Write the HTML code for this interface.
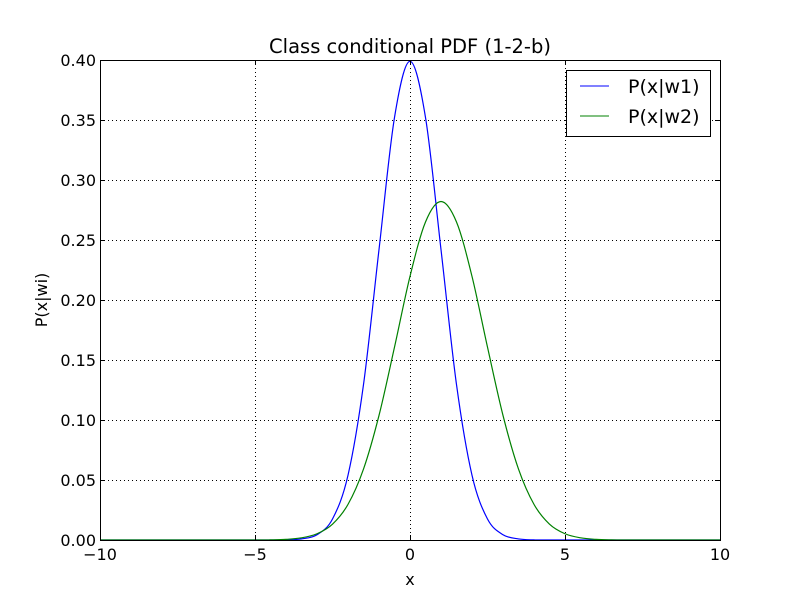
<!DOCTYPE html>
<html><head><meta charset="utf-8"><style>
body{margin:0;background:#fff}
text{font-family:"DejaVu Sans","Liberation Sans",sans-serif}
</style></head><body>
<svg id="chart" width="800" height="600" viewBox="0 0 800 600" xmlns="http://www.w3.org/2000/svg">
<rect width="800" height="600" fill="#fff"/>
<g id="grid"></g><g id="series"></g><g id="axes"></g>
<text x="410" y="53" text-anchor="middle" font-size="19.5">Class conditional PDF (1-2-b)</text>
<text x="410" y="585" text-anchor="middle" font-size="16">x</text>
<text transform="translate(47,300) rotate(-90)" text-anchor="middle" font-size="16">P(x|wi)</text>
<g>
<rect x="566.5" y="70.5" width="144" height="66" fill="#fff" stroke="#000"/>
<line x1="580" y1="86" x2="609" y2="86" stroke="#0000ff"/>
<text x="628" y="93" font-size="19">P(x|w1)</text>
<line x1="580" y1="116" x2="609" y2="116" stroke="#008000"/>
<text x="628" y="123" font-size="19">P(x|w2)</text>
</g>
</svg>
<script>
const xTicks=[-10,-5,0,5,10];
const yTicks=[0,0.05,0.1,0.15,0.2,0.25,0.3,0.35,0.4];
const yTickLabels=["0.00","0.05","0.10","0.15","0.20","0.25","0.30","0.35","0.40"];
const w1X=[-10,-4.5,-4,-3.5,-3,-2.5,-2,-1.5,-1,-0.5,0,0.5,1,1.5,2,2.5,3,3.5,4,4.5,10];
const w1Y=[0,0,0.0001,0.0009,0.0044,0.0175,0.0540,0.1295,0.2420,0.3521,0.3989,0.3521,0.2420,0.1295,0.0540,0.0175,0.0044,0.0009,0.0001,0,0];
const w2X=[-10,-5,-4.5,-4,-3.5,-3,-2.5,-2,-1.5,-1,-0.5,0,0.5,1,1.5,2,2.5,3,3.5,4,4.5,5,5.5,6,6.5,7,7.5,10];
const w2Y=[0,0,0.0001,0.0005,0.0018,0.0052,0.0132,0.0297,0.0591,0.1038,0.1607,0.2197,0.2650,0.2821,0.2650,0.2197,0.1607,0.1038,0.0591,0.0297,0.0132,0.0052,0.0018,0.0005,0.0001,0,0,0];
const L=100,R=720,T=60,B=540;
const sx=v=>L+(v+10)/20*(R-L), sy=v=>B-v/0.4*(B-T);
const NS="http://www.w3.org/2000/svg";
function mk(p,t,a){const e=document.createElementNS(NS,t);for(const k in a)e.setAttribute(k,a[k]);p.appendChild(e);return e;}
const grid=document.getElementById('grid'),axes=document.getElementById('axes'),ser=document.getElementById('series');
xTicks.forEach(v=>{const x=sx(v)+0.5;
 const g=mk(grid,'line',{x1:x,x2:x,y1:T,y2:B,stroke:'#000','stroke-dasharray':'1,3','stroke-width':1});
 
 mk(axes,'line',{x1:x,x2:x,y1:B,y2:B-5,stroke:'#000'});mk(axes,'line',{x1:x,x2:x,y1:T,y2:T+5,stroke:'#000'});
 const t=mk(axes,'text',{x:sx(v),y:B+20,'text-anchor':'middle','font-size':16});t.textContent=(v<0?'\u2212'+(-v):v);
 });
yTicks.forEach((v,i)=>{const y=sy(v)+0.5;
 const g=mk(grid,'line',{x1:L,x2:R,y1:y,y2:y,stroke:'#000','stroke-dasharray':'1,3','stroke-width':1});
 
 mk(axes,'line',{x1:L,x2:L+5,y1:y,y2:y,stroke:'#000'});mk(axes,'line',{x1:R,x2:R-5,y1:y,y2:y,stroke:'#000'});
 const t=mk(axes,'text',{x:L-4,y:sy(v)+6,'text-anchor':'end','font-size':16});t.textContent=yTickLabels[i];
 });
const fr=mk(axes,'rect',{x:L+0.5,y:T+0.5,width:R-L,height:B-T,fill:'none',stroke:'#000'});

function path(xs,ys){const p=xs.map((x,i)=>[sx(x),sy(ys[i])]);let d='M'+p[0][0]+','+p[0][1];
 for(let i=0;i<p.length-1;i++){const p0=p[Math.max(0,i-1)],p1=p[i],p2=p[i+1],p3=p[Math.min(p.length-1,i+2)];
  d+=' C'+(p1[0]+(p2[0]-p0[0])/6)+','+(p1[1]+(p2[1]-p0[1])/6)+' '+(p2[0]-(p3[0]-p1[0])/6)+','+(p2[1]-(p3[1]-p1[1])/6)+' '+p2[0]+','+p2[1];}
 return d;}
const l1=mk(ser,'path',{d:path(w1X,w1Y),fill:'none',stroke:'#0000ff','stroke-width':1.2});

const l2=mk(ser,'path',{d:path(w2X,w2Y),fill:'none',stroke:'#008000','stroke-width':1.2});

</script>
</body></html>
